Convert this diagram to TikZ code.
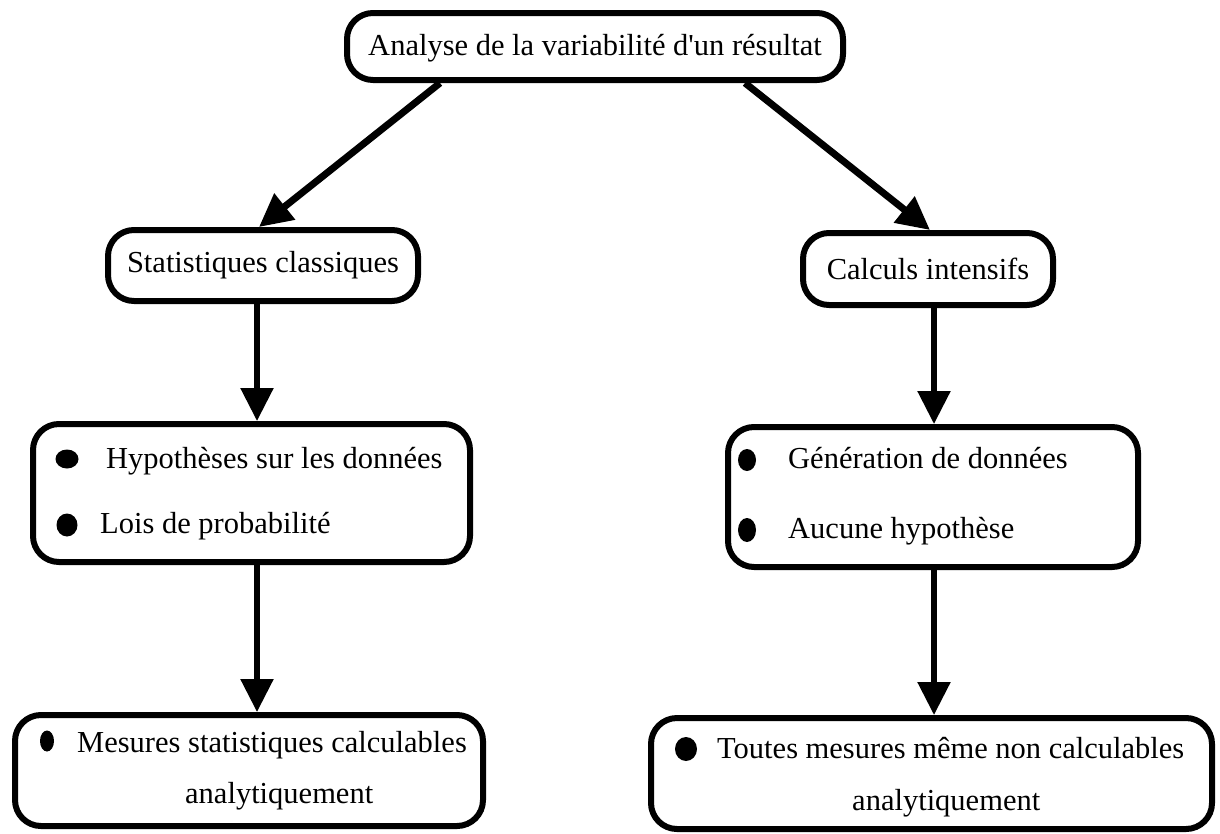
\documentclass[tikz,border=0pt]{standalone}
\usepackage{fontspec}
\setmainfont{Liberation Serif}
\usetikzlibrary{arrows.meta,shapes.geometric}

\tikzset{
  box/.style={draw, line width=6pt, rounded corners=26pt, inner sep=0pt},
  arr/.style={line width=5.5pt, -{Triangle[width=32pt,length=33pt]}},
  dot/.style={ellipse, fill, draw=none, inner sep=0pt},
  txt/.style={anchor=base west, inner sep=0pt}
}

\begin{document}
\begin{tikzpicture}[x=1pt,y=-1pt,font=\fontsize{30.5}{36}\selectfont]
\useasboundingbox (0,0) rectangle (1220,833);
\node[box, minimum width=496pt, minimum height=67pt, text depth=4pt] (top) at (595,46.5) {Analyse de la variabilité d\textquotesingle un résultat};
\node[box, minimum width=310pt, minimum height=71pt] (stat) at (263,265.5) {Statistiques classiques};
\node[box, minimum width=250pt, minimum height=72pt] (calc) at (928,269) {Calculs intensifs};
\node[box, minimum width=437pt, minimum height=138pt] (hyp) at (251.5,493) {};
\node[box, minimum width=410pt, minimum height=140pt] (gen) at (933,497) {};
\node[box, minimum width=468pt, minimum height=111pt] (mes) at (249,770.5) {};
\node[box, minimum width=561pt, minimum height=111pt] (tou) at (931.5,773.5) {};

\node[dot, minimum width=23pt, minimum height=19pt] (d1) at (67,459) {};
\node[dot, minimum width=21pt, minimum height=23pt] (d2) at (67,525) {};
\node[txt] (t1) at (106,468) {Hypothèses sur les données};
\node[txt] (t2) at (100,533) {Lois de probabilité};

\node[dot, minimum width=18pt, minimum height=22pt] (d3) at (747,460) {};
\node[dot, minimum width=18pt, minimum height=24pt] (d4) at (747,530) {};
\node[txt] (t3) at (788,468) {Génération de données};
\node[txt] (t4) at (788,538) {Aucune hypothèse};

\node[dot, minimum width=14pt, minimum height=21pt] (d5) at (47,741) {};
\node[txt] (t5) at (77,752) {Mesures statistiques calculables};
\node[txt] (t6) at (185,803) {analytiquement};

\node[dot, minimum width=22pt, minimum height=24pt] (d6) at (686,749) {};
\node[txt] (t7) at (717,758) {Toutes mesures même non calculables};
\node[txt] (t8) at (852,810) {analytiquement};

\coordinate (cl) at (257,0);
\coordinate (cr) at (934,0);
\draw[arr, line width=7pt] ([xshift=96pt]top.south west) -- ([xshift=154pt]stat.north west);
\draw[arr, line width=7pt] ([xshift=-101pt]top.south east) -- ([xshift=130pt]calc.north west);
\draw[arr] (stat.south -| cl) -- (hyp.north -| cl);
\draw[arr] (hyp.south -| cl) -- (mes.north -| cl);
\draw[arr] (calc.south -| cr) -- (gen.north -| cr);
\draw[arr] (gen.south -| cr) -- (tou.north -| cr);
\end{tikzpicture}
\end{document}
